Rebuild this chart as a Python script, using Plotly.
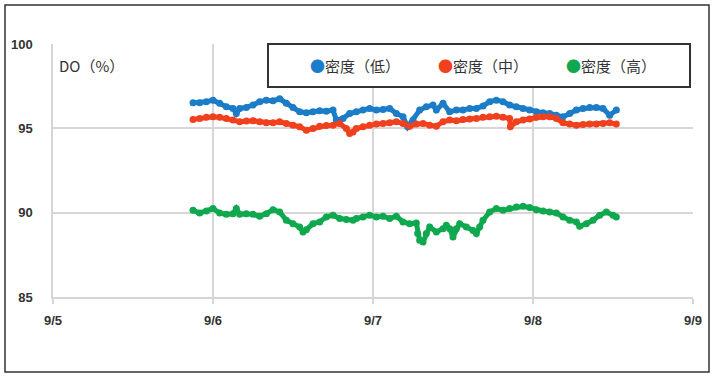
import datetime as dt
import plotly.graph_objects as go

# Hours elapsed since 9/5 00:00
blue_hours = [21, 22, 23, 24, 25, 26, 27, 27.5, 28, 29, 30, 31, 32, 33, 34, 35, 36, 37, 38, 39, 40, 41, 42, 42.5, 43.5, 44.5,
              45.5, 46.5, 47.5, 48.5, 49.5, 50.5, 51.5, 52.5, 53.2, 54, 55, 56, 57, 57.5, 58.5, 59.5, 60.5, 61.5, 62.5, 63.5,
              64.5, 65.5, 66.5, 67.5, 68.5, 69.5, 70.5, 71.5, 72.5, 73.5, 74.5, 75.5, 76.5, 77.5, 78.5, 79.5, 80.5, 81.5,
              82.5, 83.5, 84.5]
blue_do = [96.52, 96.52, 96.58, 96.67, 96.48, 96.28, 96.18, 95.88, 96.18, 96.24, 96.38, 96.58, 96.67, 96.63, 96.75, 96.48,
           96.24, 95.98, 95.92, 95.98, 96.04, 96.02, 96.08, 95.49, 95.59, 95.88,
           95.98, 96.08, 96.18, 96.08, 96.12, 96.18, 95.88, 95.68, 95.09, 95.49, 96.08, 96.28, 96.38, 96.08, 96.48, 95.98,
           96.08, 96.08, 96.18, 96.18, 96.32, 96.58, 96.67, 96.58, 96.38, 96.28, 96.18, 96.08, 95.98, 95.92, 95.88, 95.78,
           95.68, 95.88, 96.08, 96.18, 96.24, 96.24, 96.18, 95.78, 96.08]

red_hours = [21, 22, 23, 24, 25, 26, 27, 28, 29, 30, 31, 32, 33, 34, 35, 36, 37, 38, 39, 40, 41, 42, 43, 44, 44.5, 45,
             45.5, 46.5, 47.5, 48.5, 49.5, 50.5, 51.5, 52.5, 53.5, 54.5, 55.5, 56.5, 57.5, 58.5, 59.5, 60.5, 61.5, 62.5,
             63.5, 64.5, 65.5, 66.5, 67.5, 68.5, 68.6, 69.5, 70.5, 71.5, 72.5, 73.5, 74.5, 75.5, 76.5, 77.5, 78.5, 79.5,
             80.5, 81.5, 82.5, 83.5, 84.5]
red_do = [95.53, 95.59, 95.65, 95.68, 95.65, 95.59, 95.49, 95.39, 95.43, 95.45, 95.39, 95.33, 95.33, 95.39, 95.29, 95.19,
          95.09, 94.89, 94.99, 95.13, 95.17, 95.19, 95.29, 94.99, 94.70, 94.79,
          94.99, 95.09, 95.19, 95.25, 95.29, 95.33, 95.39, 95.29, 95.13, 95.25, 95.29, 95.19, 95.13, 95.39, 95.49, 95.45,
          95.53, 95.55, 95.59, 95.65, 95.68, 95.72, 95.65, 95.59, 95.09, 95.39, 95.49, 95.55, 95.65, 95.68, 95.68, 95.59,
          95.33, 95.25, 95.19, 95.23, 95.25, 95.25, 95.29, 95.33, 95.25]

green_hours = [21, 22, 23, 24, 25, 26, 27, 27.5, 28, 29, 30, 31, 32, 33, 34, 35, 36, 37, 37.5, 38, 39, 40, 41, 42, 43, 44, 45,
               45.5, 46.5, 47.5, 48.5, 49.5, 50.5, 51.5, 52.5, 53.5, 54.5, 54.7, 55, 55.5, 56, 56.5, 57.5, 58.5, 59, 59.5,
               60, 60.5, 61, 62, 63, 63.5, 64, 64.5, 65.5, 66.5, 67.5, 68.5, 69.5, 70.5, 71.5, 72.5, 73.5, 74.5, 75.5,
               76.5, 77.5, 78.5, 79, 80, 81, 82, 83, 84, 84.5]
green_do = [90.14, 89.98, 90.10, 90.24, 89.98, 89.90, 89.94, 90.24, 89.90, 89.94, 89.90, 89.79, 89.94, 90.18, 90.04, 89.55,
            89.35, 89.15, 88.86, 88.99, 89.35, 89.45, 89.75, 89.85, 89.65, 89.59, 89.55,
            89.65, 89.75, 89.85, 89.75, 89.79, 89.65, 89.79, 89.45, 89.35, 89.39, 88.76, 88.36, 88.26, 88.76, 89.15, 88.86,
            89.05, 89.25, 89.05, 88.56, 89.05, 89.35, 89.15, 88.95, 88.76, 89.15, 89.55, 90.04, 90.24, 90.14, 90.24, 90.34,
            90.38, 90.30, 90.18, 90.10, 90.04, 89.98, 89.75, 89.55, 89.45, 89.19, 89.35, 89.55, 89.85, 90.04, 89.85, 89.75]

series_names = ["密度（低）", "密度（中）", "密度（高）"]
series_colors = ["#1b7cc8", "#f0401e", "#0fa84f"]
x_tick_labels = ["9/5", "9/6", "9/7", "9/8", "9/9"]
y_ticks = [85, 90, 95, 100]

base = dt.datetime(2023, 9, 5)


def to_time(hours):
    return [base + dt.timedelta(hours=h) for h in hours]


tick_dates = [base + dt.timedelta(days=i) for i in range(len(x_tick_labels))]

fig = go.Figure()
for hrs, vals, name, col in zip([blue_hours, red_hours, green_hours], [blue_do, red_do, green_do],
                                series_names, series_colors):
    fig.add_trace(go.Scatter(x=to_time(hrs), y=vals, mode="lines+markers", name=name,
                             line=dict(color=col, width=5), marker=dict(color=col, size=7),
                             showlegend=False))
    # legend entry: coloured dot glyph followed by the series name
    fig.add_trace(go.Scatter(x=[None], y=[None], mode="markers",
                             name=f'<span style="color:{col}">●</span>{name}',
                             marker=dict(color="rgba(0,0,0,0)", size=0), showlegend=True))

grid = "#d6d6d6"
L, T, PW, PH = 53, 44, 640, 253
fig.update_layout(
    width=716, height=379,
    margin=dict(l=L, r=716 - L - PW, t=T, b=379 - T - PH, autoexpand=False),
    paper_bgcolor="white", plot_bgcolor="white",
    font=dict(family="Noto Sans CJK JP", color="#333333"),
    legend=dict(orientation="h", x=(270 - L) / PW, xanchor="left", y=0.975, yanchor="top",
                bgcolor="rgba(0,0,0,0)", borderwidth=0,
                font=dict(size=15, color="#333333", family="Noto Sans CJK JP"),
                entrywidth=83, entrywidthmode="pixels", itemwidth=30),
    xaxis=dict(range=[tick_dates[0], tick_dates[-1]], tickvals=tick_dates, ticktext=x_tick_labels,
               showgrid=True, gridcolor=grid, gridwidth=1.5,
               showline=True, linecolor=grid, linewidth=1.5,
               ticks="outside", ticklen=5, tickcolor=grid, tickwidth=1.5,
               ticklabelstandoff=6,
               tickfont=dict(family="Liberation Sans", size=13, color="#333333", weight="bold"),
               zeroline=False),
    yaxis=dict(range=[85, 100], tickvals=y_ticks, ticktext=[str(v) for v in y_ticks],
               showgrid=True, gridcolor=grid, gridwidth=1.5,
               showline=True, linecolor=grid, linewidth=1.5,
               ticks="", ticklabelstandoff=16,
               tickfont=dict(family="Liberation Sans", size=13, color="#333333", weight="bold"),
               zeroline=False),
)

# legend frame
fig.add_shape(type="rect", xref="paper", yref="paper",
              x0=(268 - L) / PW, x1=(690 - L) / PW, y0=(T + PH - 87) / PH, y1=1.0,
              line=dict(color="#333333", width=2), fillcolor="white", layer="above")
# outer frame
fig.add_shape(type="rect", xref="paper", yref="paper",
              x0=(5 - L) / PW, x1=(709 - L) / PW, y0=(T + PH - 372) / PH, y1=(T + PH - 5) / PH,
              line=dict(color="#333333", width=1.5), fillcolor="rgba(0,0,0,0)", layer="above")
fig.add_annotation(text="DO（%）", xref="paper", yref="paper", x=(57 - L) / PW, y=(T + PH - 65) / PH,
                   xanchor="left", yanchor="middle", showarrow=False,
                   font=dict(size=15, color="#333333", family="Noto Sans CJK JP"))

fig.write_html("out.html", config={"displayModeBar": False},
               post_script="document.body.style.margin='0';")
